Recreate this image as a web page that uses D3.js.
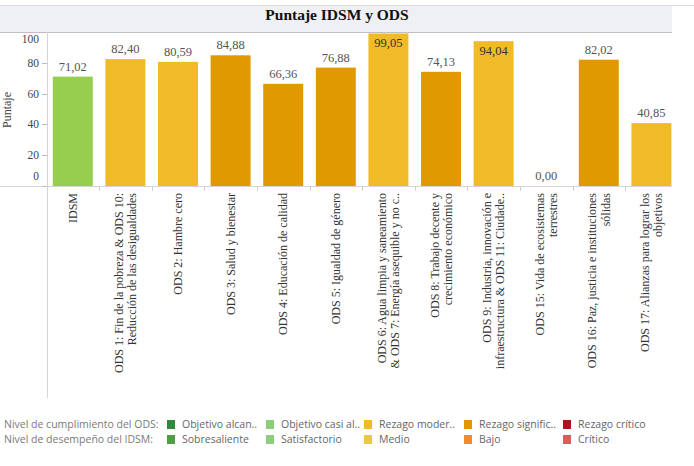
<!DOCTYPE html>
<html>
<head>
<meta charset="utf-8">
<style>
    body
    {
        margin:0;
        background:#ffffff;
    }
    svg
    {
        display:block;
    }
</style>
<script src="https://d3js.org/d3.v7.min.js"></script>
</head>
<body>
<svg id="chart"></svg>
<script>
    // categories (label lines) and scores
    var categories = ["IDSM","ODS 1","ODS 2","ODS 3","ODS 4","ODS 5","ODS 6","ODS 8","ODS 9","ODS 15","ODS 16","ODS 17"];
    var labelLines = [
        ["IDSM"],
        ["ODS 1: Fin de la pobreza & ODS 10:","Reducción de las desigualdades"],
        ["ODS 2: Hambre cero"],
        ["ODS 3: Salud y bienestar"],
        ["ODS 4: Educación de calidad"],
        ["ODS 5: Igualdad de género"],
        ["ODS 6: Agua limpia y saneamiento","& ODS 7: Energía asequible y no c.."],
        ["ODS 8: Trabajo decente y","crecimiento económico"],
        ["ODS 9: Industria, innovación e","infraestructura & ODS 11: Ciudade.."],
        ["ODS 15: Vida de ecosistemas","terrestres"],
        ["ODS 16: Paz, justicia e instituciones","sólidas"],
        ["ODS 17: Alianzas para lograr los","objetivos"]
    ];
    var scores = [71.02,82.40,80.59,84.88,66.36,76.88,99.05,74.13,94.04,0.00,82.02,40.85];
    var levels = ["Satisfactorio","Rezago moder.","Rezago moder.","Rezago signific.","Rezago signific.","Rezago signific.",
                  "Rezago moder.","Rezago signific.","Rezago moder.","Rezago signific.","Rezago signific.","Rezago moder."];
    var yTicks = [0,20,40,60,80,100];

    var legendRows = ["Nivel de cumplimiento del ODS:","Nivel de desempeño del IDSM:"];
    var legendOds = ["Objetivo alcan..","Objetivo casi al..","Rezago moder..","Rezago signific..","Rezago crítico"];
    var legendIdsm = ["Sobresaliente","Satisfactorio","Medio","Bajo","Crítico"];
    var odsColors = ["#2f8a3b","#8ccd7a","#f0bb26","#e09a00","#b0101f"];
    var idsmColors = ["#4f9d45","#8ecf7d","#ecc744","#f28b2c","#e15a5b"];

    var barColor = {"Satisfactorio":"#96cf4f","Rezago moder.":"#f0bb26","Rezago signific.":"#e09a00"};

    var screen = {width:694,height:466};
    var svg = d3.select("#chart")
        .attr("width",screen.width)
        .attr("height",screen.height);

    var serif = "'Liberation Serif','Times New Roman',serif";
    var sans = "'Open Sans','Noto Sans',sans-serif";

    // title bar
    svg.append("line")
        .attr("x1",0).attr("x2",screen.width)
        .attr("y1",5.5).attr("y2",5.5)
        .attr("stroke","#dcdcdc");
    svg.append("rect")
        .attr("x",0).attr("y",6)
        .attr("width",672).attr("height",26)
        .attr("fill","#eef0f3");
    svg.append("text")
        .attr("x",337).attr("y",20)
        .attr("text-anchor","middle")
        .attr("font-family",serif)
        .attr("font-weight","bold")
        .attr("font-size","15.5px")
        .attr("fill","#111")
        .text("Puntaje IDSM y ODS");

    var xScale = d3.scaleBand()
        .domain(categories)
        .range([46.5,677.7])
        .paddingInner(0.24)
        .paddingOuter(0.12);
    var yScale = d3.scaleLinear()
        .domain([0,100])
        .range([186,32]);

    // frame lines
    svg.append("line")
        .attr("x1",0).attr("x2",672)
        .attr("y1",32.5).attr("y2",32.5)
        .attr("stroke","#bfbfbf");
    svg.append("line")
        .attr("x1",47.5).attr("x2",47.5)
        .attr("y1",32).attr("y2",398)
        .attr("stroke","#d4d4d4");
    svg.append("line")
        .attr("x1",0).attr("x2",672)
        .attr("y1",186.5).attr("y2",186.5)
        .attr("stroke","#d4d4d4");

    // y axis
    var yAxis = svg.append("g");
    yAxis.selectAll("line")
        .data(yTicks)
        .enter()
        .append("line")
        .attr("x1",42).attr("x2",47)
        .attr("y1",function(d){return Math.round(yScale(d))+0.5;})
        .attr("y2",function(d){return Math.round(yScale(d))+0.5;})
        .attr("stroke","#bbb");
    yAxis.selectAll("text")
        .data(yTicks)
        .enter()
        .append("text")
        .attr("x",39)
        .attr("y",function(d){
            var y = yScale(d);
            if(d==0) y -= 10;
            if(d==100) y += 7;
            return y;
        })
        .attr("dy","0.35em")
        .attr("text-anchor","end")
        .attr("font-family",serif)
        .attr("font-size","11.5px")
        .attr("fill","#444")
        .text(function(d){return d;});
    svg.append("text")
        .attr("transform","translate(11,110) rotate(-90)")
        .attr("text-anchor","middle")
        .attr("font-family",serif)
        .attr("font-size","12px")
        .attr("fill","#444")
        .text("Puntaje");

    // x ticks at band edges
    svg.append("g")
        .selectAll("line")
        .data(categories.slice(1))
        .enter()
        .append("line")
        .attr("x1",function(d){return Math.round(xScale(d)-xScale.step()*xScale.paddingInner()/2)+0.5;})
        .attr("x2",function(d){return Math.round(xScale(d)-xScale.step()*xScale.paddingInner()/2)+0.5;})
        .attr("y1",186).attr("y2",191)
        .attr("stroke","#cfcfcf");

    // bars
    svg.append("g")
        .selectAll("rect")
        .data(scores)
        .enter()
        .append("rect")
        .attr("x",function(d,i){return xScale(categories[i]);})
        .attr("width",xScale.bandwidth())
        .attr("y",function(d){return yScale(d);})
        .attr("height",function(d){return yScale(0)-yScale(d);})
        .attr("fill",function(d,i){return barColor[levels[i]];});

    // value labels
    svg.append("g")
        .selectAll("text")
        .data(scores)
        .enter()
        .append("text")
        .attr("x",function(d,i){return xScale(categories[i])+xScale.bandwidth()/2;})
        .attr("y",function(d){
            if(d>90) return yScale(d)+14;
            return yScale(d)-6;
        })
        .attr("text-anchor","middle")
        .attr("font-family",serif)
        .attr("font-size","12.5px")
        .attr("fill",function(d){return d>90 ? "#333" : "#555";})
        .text(function(d){return d.toFixed(2).replace(".",",");});

    // category labels
    var xLabels = svg.append("g")
        .selectAll("text")
        .data(labelLines)
        .enter()
        .append("text")
        .attr("transform",function(d,i){
            return "translate("+(xScale(categories[i])+xScale.bandwidth()/2)+",193) rotate(-90)";
        })
        .attr("text-anchor","end")
        .attr("font-family",serif)
        .attr("font-size","12px")
        .attr("fill","#333");
    xLabels.selectAll("tspan")
        .data(function(d){return d;})
        .enter()
        .append("tspan")
        .attr("x",0)
        .attr("y",function(d,j,nodes){return (j-(nodes.length-1)/2)*13.3;})
        .attr("dy","0.35em")
        .text(function(d){return d;});

    // legend
    var legendX = [167,266,364,464,563];
    var rowsY = [424.5,439.5];
    var rowData = [
        {title:legendRows[0],labels:legendOds,colors:odsColors},
        {title:legendRows[1],labels:legendIdsm,colors:idsmColors}
    ];
    rowData.forEach(function(row,r){
        var g = svg.append("g");
        g.append("text")
            .attr("x",4).attr("y",rowsY[r])
            .attr("dy","0.35em")
            .attr("font-family",sans)
            .attr("font-size","10.5px")
            .attr("fill","#7a7a7a")
            .text(row.title);
        g.selectAll("rect")
            .data(row.colors)
            .enter()
            .append("rect")
            .attr("x",function(d,i){return legendX[i];})
            .attr("y",rowsY[r]-4.5)
            .attr("width",8).attr("height",9)
            .attr("fill",function(d){return d;});
        g.selectAll("text.item")
            .data(row.labels)
            .enter()
            .append("text")
            .attr("class","item")
            .attr("x",function(d,i){return legendX[i]+15;})
            .attr("y",rowsY[r])
            .attr("dy","0.35em")
            .attr("font-family",sans)
            .attr("font-size","10.5px")
            .attr("fill","#666")
            .text(function(d){return d;});
    });
</script>
</body>
</html>
